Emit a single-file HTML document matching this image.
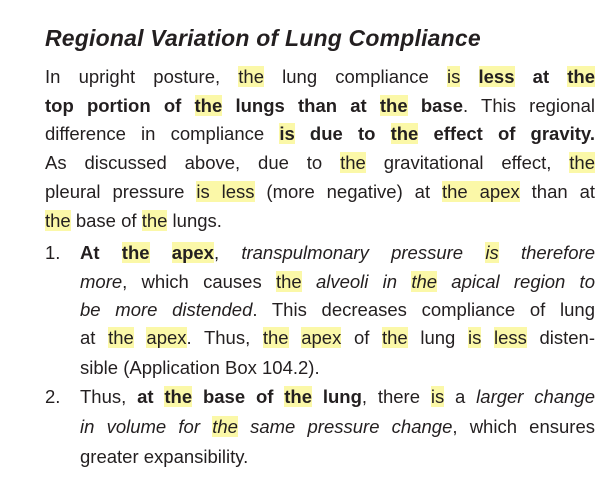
<!DOCTYPE html>
<html><head><meta charset="utf-8"><style>
body{margin:0;background:#fff;width:616px;height:486px;overflow:hidden;font-family:"Liberation Sans",sans-serif;color:#231f20}
.t{position:absolute;left:45px;top:25px;font-size:23px;font-weight:bold;font-style:italic;letter-spacing:0.2px}
.l{position:absolute;white-space:nowrap;text-align:justify;text-align-last:justify;font-size:18.5px;line-height:24px;height:24px}
.p{left:45px;width:550px}
.q{left:80px;width:515px}
.n{position:absolute;left:45px;font-size:18.5px;line-height:24px}
.h{background:#fbf8a8}
</style></head><body>
<div class="t">Regional Variation of Lung Compliance</div>
<div>
<div class="l p" style="top:65px">In upright posture, <span class="h">the</span> lung compliance <span class="h">is</span> <b><span class="h">less</span> at <span class="h">the</span></b></div>
<div class="l p" style="top:94px"><b>top portion of <span class="h">the</span> lungs than at <span class="h">the</span> base</b>. This regional</div>
<div class="l p" style="top:122px">difference in compliance <b><span class="h">is</span> due to <span class="h">the</span> effect of gravity.</b></div>
<div class="l p" style="top:151px">As discussed above, due to <span class="h">the</span> gravitational effect, <span class="h">the</span></div>
<div class="l p" style="top:180px">pleural pressure <span class="h">is less</span> (more negative) at <span class="h">the apex</span> than at</div>
<div class="l" style="top:209px;left:45px"><span class="h">the</span> base of <span class="h">the</span> lungs.</div>
</div>
<div>
<div class="n" style="top:241px">1.</div>
<div class="l q" style="top:241px"><b>At <span class="h">the</span> <span class="h">apex</span></b>, <i>transpulmonary pressure <span class="h">is</span> therefore</i></div>
<div class="l q" style="top:270px"><i>more</i>, which causes <span class="h">the</span> <i>alveoli in <span class="h">the</span> apical region to</i></div>
<div class="l q" style="top:298px"><i>be more distended</i>. This decreases compliance of lung</div>
<div class="l q" style="top:326px">at <span class="h">the</span> <span class="h">apex</span>. Thus, <span class="h">the</span> <span class="h">apex</span> of <span class="h">the</span> lung <span class="h">is</span> <span class="h">less</span> disten-</div>
<div class="l" style="top:356px;left:80px">sible (Application Box 104.2).</div>
</div>
<div>
<div class="n" style="top:385px">2.</div>
<div class="l q" style="top:385px">Thus, <b>at <span class="h">the</span> base of <span class="h">the</span> lung</b>, there <span class="h">is</span> a <i>larger change</i></div>
<div class="l q" style="top:415px"><i>in volume for <span class="h">the</span> same pressure change</i>, which ensures</div>
<div class="l" style="top:445px;left:80px">greater expansibility.</div>
</div>
</body></html>
